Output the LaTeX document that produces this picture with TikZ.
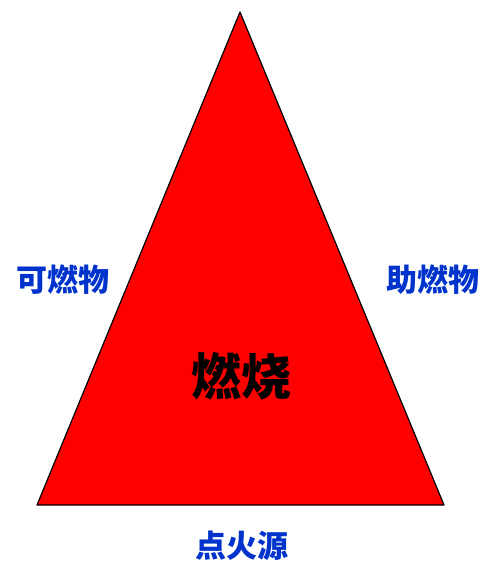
\documentclass[tikz,border=0pt]{standalone}
\usepackage{fontspec}
\newfontfamily\cjk{Noto Sans CJK SC}
\definecolor{labelblue}{RGB}{0,51,204}
\tikzset{
  side/.style={font=\cjk\bfseries\fontsize{31}{31}\selectfont, text=labelblue, inner sep=0pt},
  core/.style={font=\cjk\bfseries\fontsize{50}{50}\selectfont, text=black, inner sep=0pt}
}
\begin{document}
\begin{tikzpicture}[x=1pt, y=-1pt]
\useasboundingbox (0,0) rectangle (482,568);

\coordinate (top) at (240,12);
\coordinate (left) at (37,505);
\coordinate (right) at (444,505);
\draw [fill=red, line width=1.2pt, line join=round] (top) -- (right) -- (left) -- cycle; % triangle

\node [core] (burn) at (241,376) {燃烧};
\node [side] (fuel) at (63,280) {可燃物};
\node [side] (oxy) at (433,280) {助燃物};
\node [side] (heat) at (242,546) {点火源};

\end{tikzpicture}
\end{document}
